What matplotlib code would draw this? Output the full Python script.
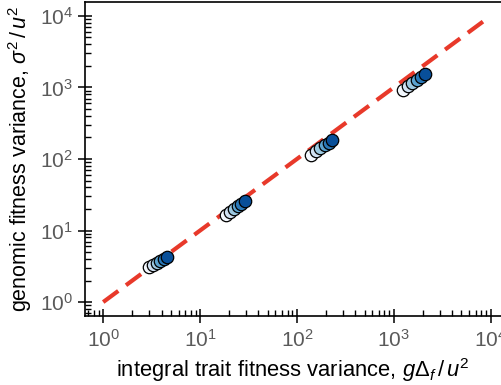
import numpy as np
import matplotlib
matplotlib.use("Agg")
import matplotlib.pyplot as plt
from matplotlib.ticker import LogLocator, NullFormatter

plt.rcParams['font.family'] = ['Liberation Sans', 'DejaVu Sans']
plt.rcParams['mathtext.fontset'] = 'custom'
plt.rcParams['mathtext.rm'] = 'Liberation Sans'
plt.rcParams['mathtext.it'] = 'Liberation Sans:italic'
plt.rcParams['mathtext.bf'] = 'Liberation Sans:bold'

# data: four clusters of six points each
x_c1 = [3.0, 3.3, 3.6, 3.9, 4.2, 4.55]
y_c1 = [3.05, 3.3, 3.55, 3.8, 4.05, 4.3]
x_c2 = [18.5, 20.5, 22.5, 24.5, 26.5, 29.0]
y_c2 = [16.5, 18.2, 20.0, 21.8, 23.6, 25.5]
x_c3 = [140, 157, 175, 193, 212, 232]
y_c3 = [115, 128, 141, 155, 169, 184]
x_c4 = [1250, 1400, 1560, 1730, 1910, 2100]
y_c4 = [930, 1040, 1160, 1280, 1410, 1550]
clusters_x = [x_c1, x_c2, x_c3, x_c4]
clusters_y = [y_c1, y_c2, y_c3, y_c4]
shade = [0.02, 0.2, 0.38, 0.55, 0.72, 0.88]
line_x = [1.0, 1e4]
line_y = [1.0, 1e4]

fig = plt.figure(figsize=(5.01, 3.85), dpi=100)
ax = fig.add_axes([0.170, 0.179, 0.830, 0.816])
ax.set_xscale('log')
ax.set_yscale('log')

ax.plot(line_x, line_y, color='#e8392a', lw=3, dashes=(4.5, 2.3), zorder=1)
cmap = plt.get_cmap('Blues')
for xs, ys in zip(clusters_x, clusters_y):
    for xv, yv, s in zip(xs, ys, shade):
        ax.scatter([xv], [yv], s=80, color=cmap(s), edgecolor='black', linewidth=0.9, zorder=3)

ax.set_xlim(10**-0.186, 10**4.107)
ax.set_ylim(10**-0.196, 10**4.196)

ax.spines['right'].set_visible(False)
for sp in ['left', 'bottom', 'top']:
    ax.spines[sp].set_linewidth(1.2)

ax.xaxis.set_major_locator(LogLocator(base=10, numticks=10))
ax.yaxis.set_major_locator(LogLocator(base=10, numticks=10))
ax.xaxis.set_minor_locator(LogLocator(base=10, subs=np.arange(2, 10), numticks=20))
ax.yaxis.set_minor_locator(LogLocator(base=10, subs=np.arange(2, 10), numticks=20))
ax.xaxis.set_minor_formatter(NullFormatter())
ax.yaxis.set_minor_formatter(NullFormatter())
ax.tick_params(which='major', direction='inout', length=10, width=1.1, labelsize=15,
               labelcolor='#5a5a5a', pad=4)
ax.tick_params(which='minor', direction='in', length=4, width=1.0)
ax.tick_params(top=False, right=False)

ax.set_xlabel(r'integral trait fitness variance, $g\Delta_f\,/\,u^2$', fontsize=15.8, labelpad=4)
ax.set_ylabel(r'genomic fitness variance, $\sigma^2\,/\,u^2$', fontsize=15.5, labelpad=4)

fig.savefig('out.png', dpi=100)
